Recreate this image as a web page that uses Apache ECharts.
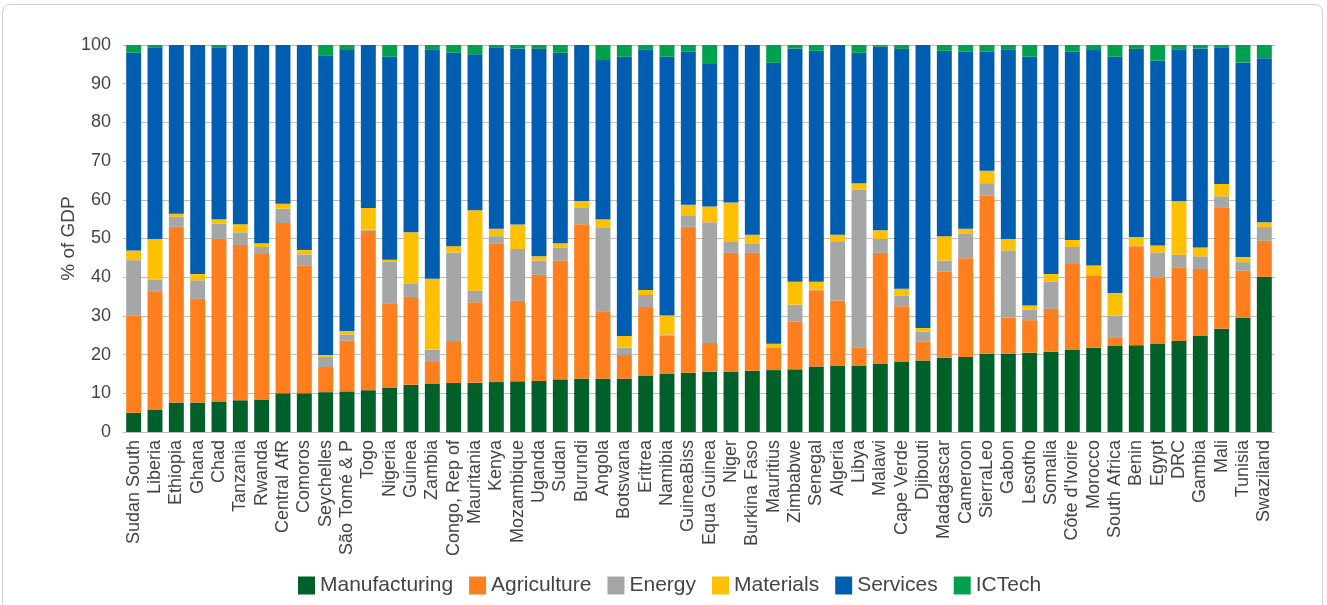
<!DOCTYPE html>
<html>
<head>
<meta charset="utf-8">
<script src="https://cdn.jsdelivr.net/npm/echarts@6/dist/echarts.min.js"></script>
<style>
  html, body { margin: 0; padding: 0; background: #fff; }
  #frame { position: absolute; left: 2px; top: 4px; width: 1321px; height: 610px;
           border: 1px solid #d0d0d0; border-radius: 8px; box-sizing: border-box; }
  #chart { position: absolute; left: 0; top: 0; width: 1327px; height: 605px; }
</style>
</head>
<body>
<div id="frame"></div>
<div id="chart"></div>
<script>
var countries = ['Sudan South', 'Liberia', 'Ethiopia', 'Ghana', 'Chad', 'Tanzania', 'Rwanda', 'Central AfR',
    'Comoros', 'Seychelles', 'São Tomé & P', 'Togo', 'Nigeria', 'Guinea', 'Zambia', 'Congo, Rep of',
    'Mauritania', 'Kenya', 'Mozambique', 'Uganda', 'Sudan', 'Burundi', 'Angola', 'Botswana', 'Eritrea',
    'Namibia', 'GuineaBiss', 'Equa Guinea', 'Niger', 'Burkina Faso', 'Mauritius', 'Zimbabwe', 'Senegal',
    'Algeria', 'Libya', 'Malawi', 'Cape Verde', 'Djibouti', 'Madagascar', 'Cameroon', 'SierraLeo', 'Gabon',
    'Lesotho', 'Somalia', "Côte d'Ivoire", 'Morocco', 'South Africa', 'Benin', 'Egypt', 'DRC', 'Gambia',
    'Mali', 'Tunisia', 'Swaziland'];

var manufacturing = [5.0, 5.7, 7.6, 7.6, 7.9, 8.2, 8.4, 10.0, 10.0, 10.3, 10.5, 10.8, 11.4, 12.2, 12.4, 12.7,
    12.7, 12.9, 13.1, 13.2, 13.6, 13.8, 13.8, 13.8, 14.6, 15.0, 15.3, 15.6, 15.6, 15.8, 16.0, 16.2, 16.9,
    17.2, 17.2, 17.7, 18.2, 18.5, 19.2, 19.4, 20.2, 20.2, 20.5, 20.7, 21.3, 21.8, 22.2, 22.4, 22.9, 23.5,
    24.8, 26.7, 29.5, 40.1];
var agriculture = [25.2, 30.5, 45.4, 26.8, 42.0, 40.1, 37.6, 44.0, 33.1, 6.5, 13.1, 41.2, 21.7, 22.7, 5.9, 10.8,
    20.8, 35.7, 20.8, 27.4, 30.7, 39.9, 17.4, 6.1, 17.7, 9.9, 37.7, 7.4, 30.7, 30.5, 5.8, 12.4, 19.7,
    16.8, 4.6, 28.6, 14.3, 4.8, 22.2, 25.5, 40.9, 9.3, 8.4, 11.1, 22.1, 18.7, 2.1, 25.6, 16.9, 19.1,
    17.3, 31.2, 12.2, 9.3];
var energy = [14.2, 3.2, 2.7, 4.8, 3.9, 3.3, 1.8, 3.7, 2.8, 2.6, 1.6, 0.3, 11.0, 3.5, 3.0, 22.9,
    3.0, 2.0, 13.4, 3.7, 3.4, 4.2, 21.7, 1.9, 3.1, 0.3, 3.0, 31.2, 2.8, 2.3, 0.1, 4.3, 0.2,
    15.3, 40.8, 3.6, 2.8, 2.6, 2.9, 6.3, 3.2, 17.4, 2.7, 7.0, 4.4, 0.0, 5.8, 0.2, 6.6, 3.2,
    3.3, 3.0, 2.2, 3.6];
var materials = [2.5, 10.5, 0.7, 1.6, 1.2, 2.1, 1.0, 1.3, 1.1, 0.5, 0.9, 5.6, 0.4, 13.2, 18.3, 1.6,
    20.8, 1.9, 6.3, 1.1, 1.1, 1.8, 2.1, 3.0, 1.3, 4.9, 2.7, 4.1, 10.2, 2.4, 0.9, 5.9, 2.0,
    1.7, 1.7, 2.2, 1.7, 1.0, 6.3, 1.3, 3.2, 3.0, 1.1, 2.0, 1.8, 2.5, 5.8, 2.2, 1.8, 13.8,
    2.3, 3.2, 1.3, 1.2];
var services = [51.1, 49.5, 43.6, 59.2, 44.4, 46.3, 51.2, 41.0, 53.0, 77.3, 72.6, 42.1, 52.5, 48.4, 59.3, 50.0,
    40.3, 46.9, 45.5, 53.6, 49.2, 40.3, 41.1, 72.2, 62.2, 66.9, 39.6, 36.8, 40.7, 49.0, 72.6, 60.3, 59.7,
    49.0, 33.7, 47.5, 62.0, 73.1, 47.9, 45.8, 30.8, 49.0, 64.3, 59.2, 48.7, 55.7, 61.1, 48.6, 47.8, 39.3,
    51.4, 35.3, 50.3, 42.4];
var ictech = [2.0, 0.6, 0.0, 0.0, 0.6, 0.0, 0.0, 0.0, 0.0, 2.8, 1.3, 0.0, 3.0, 0.0, 1.1, 2.0,
    2.4, 0.6, 0.9, 1.0, 2.0, 0.0, 3.9, 3.0, 1.1, 3.0, 1.7, 4.9, 0.0, 0.0, 4.6, 0.9, 1.5,
    0.0, 2.0, 0.4, 1.0, 0.0, 1.5, 1.7, 1.7, 1.1, 3.0, 0.0, 1.7, 1.3, 3.0, 1.0, 4.0, 1.1,
    0.9, 0.6, 4.5, 3.4];

var seriesNames = ['Manufacturing', 'Agriculture', 'Energy', 'Materials', 'Services', 'ICTech'];
var seriesColors = ['#00602a', '#ff7f1f', '#a4a7a5', '#ffc000', '#005eb0', '#00a14c'];
var seriesData = [manufacturing, agriculture, energy, materials, services, ictech];

var chart = echarts.init(document.getElementById('chart'));
var font = '"Liberation Sans", Arial, sans-serif';

var option = {
    textStyle: { fontFamily: font },
    animation: false,
    color: seriesColors,
    grid: { left: 123, right: 52, top: 45, bottom: 173 },
    legend: {
        data: seriesNames,
        bottom: 4,
        left: 293,
        itemWidth: 17,
        itemHeight: 18,
        itemGap: 16,
        icon: 'rect',
        textStyle: { fontSize: 21, color: '#444', fontFamily: font }
    },
    xAxis: {
        type: 'category',
        data: countries,
        axisTick: { show: false },
        axisLine: { show: false },
        axisLabel: {
            interval: 0,
            rotate: 90,
            fontSize: 18,
            color: '#444',
            margin: 8
        }
    },
    yAxis: {
        type: 'value',
        min: 0,
        max: 100,
        interval: 10,
        name: '% of GDP',
        nameLocation: 'middle',
        nameGap: 45,
        nameMoveOverlap: false,
        nameTextStyle: { fontSize: 19, color: '#444' },
        axisLabel: { fontSize: 18, color: '#444', margin: 12 },
        splitLine: { lineStyle: { color: '#bdbdbd', width: 1 } }
    },
    series: seriesNames.map(function (name, i) {
        return {
            name: name,
            type: 'bar',
            stack: 'gdp',
            barCategoryGap: '30%',
            data: seriesData[i]
        };
    })
};
chart.setOption(option);
</script>
</body>
</html>
